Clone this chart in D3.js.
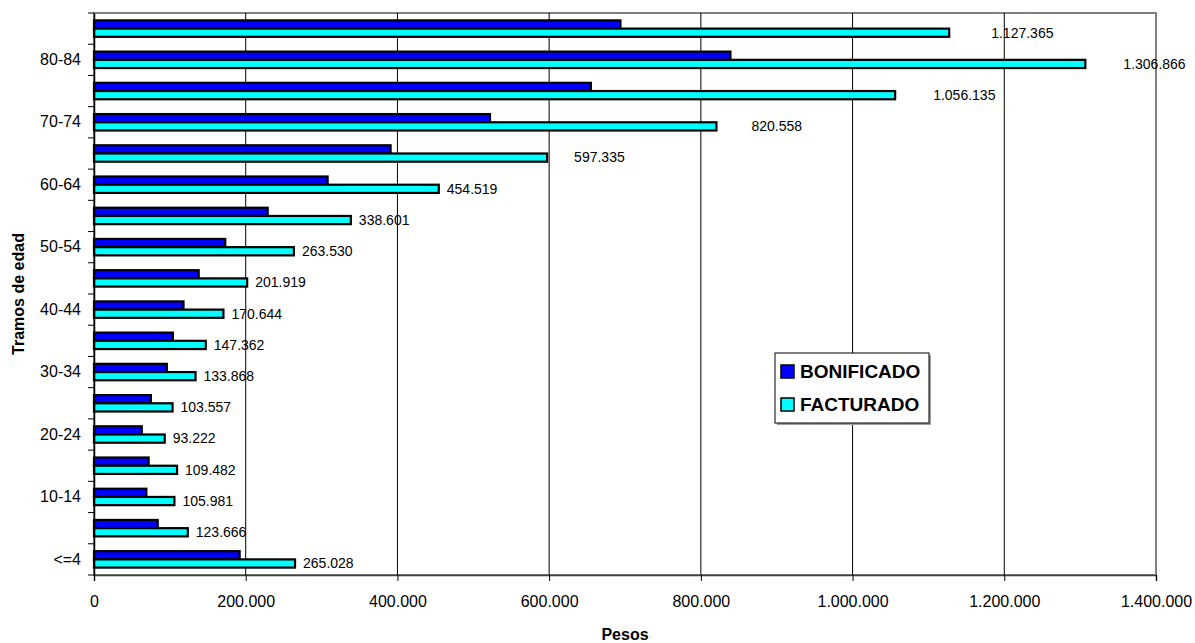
<!DOCTYPE html>
<html>
<head>
<meta charset="utf-8">
<script src="https://cdn.jsdelivr.net/npm/d3@7"></script>
<style>
  body { margin: 0; background: #fff; }
  svg { display: block; font-family: Arial, "Liberation Sans", sans-serif; }
</style>
</head>
<body>
<div class="display"></div>
<script>
// age groups, bottom to top
const tramos = ['<=4', '5-9', '10-14', '15-19', '20-24', '25-29', '30-34', '35-39', '40-44',
    '45-49', '50-54', '55-59', '60-64', '65-69', '70-74', '75-79', '80-84', '85+'];
const bonificado = [192000, 84000, 69000, 72000, 63000, 75000, 96000, 104000, 118000,
    138000, 173000, 229000, 308000, 391000, 522000, 655000, 839000, 694000];
const facturado = [265028, 123666, 105981, 109482, 93222, 103557, 133868, 147362, 170644,
    201919, 263530, 338601, 454519, 597335, 820558, 1056135, 1306866, 1127365];
const series = ['BONIFICADO', 'FACTURADO'];
const xTicks = [0, 200000, 400000, 600000, 800000, 1000000, 1200000, 1400000];

// excel pushes some labels further out, extra px per label
const labelNudge = [0, 0, 0, 0, 0, 0, 0, 0, 0, 0, 0, 0, 0, 19, 27, 30, 30, 34];

const width = 1195;
const height = 643;
const plot = { left: 94, right: 1156, top: 13, bottom: 575 };
const colors = { BONIFICADO: '#0000ff', FACTURADO: '#00ffff' };

const nf = d3.formatLocale({ decimal: ',', thousands: '.', grouping: [3], currency: ['', ''] }).format(',');

const svg = d3.select('.display')
    .append('svg')
    .attr('width', width)
    .attr('height', height);

const x = d3.scaleLinear()
    .domain([0, 1400000])
    .range([plot.left, plot.right]);

const y = d3.scaleBand()
    .domain(tramos.slice().reverse())
    .range([plot.top, plot.bottom]);

const ySub = d3.scaleBand()
    .domain(series)
    .range([0, y.bandwidth()])
    .paddingOuter(0.9);

// plot frame
svg.append('rect')
    .attr('x', plot.left)
    .attr('y', plot.top)
    .attr('width', plot.right - plot.left)
    .attr('height', plot.bottom - plot.top)
    .attr('fill', 'none')
    .attr('stroke', '#808080')
    .attr('stroke-width', 2);

// vertical gridlines
svg.append('g')
    .selectAll('line')
    .data(xTicks.slice(1, -1))
    .join('line')
    .attr('x1', d => x(d))
    .attr('x2', d => x(d))
    .attr('y1', plot.top)
    .attr('y2', plot.bottom)
    .attr('stroke', '#000')
    .attr('stroke-width', 1);

const rows = tramos.map((t, i) => ({ tramo: t, BONIFICADO: bonificado[i], FACTURADO: facturado[i], i }));

const groups = svg.append('g')
    .selectAll('g')
    .data(rows)
    .join('g')
    .attr('transform', d => `translate(0, ${y(d.tramo)})`);

groups.selectAll('rect')
    .data(d => series.map(s => ({ key: s, value: d[s] })))
    .join('rect')
    .attr('x', x(0))
    .attr('y', d => ySub(d.key))
    .attr('width', d => x(d.value) - x(0))
    .attr('height', ySub.bandwidth())
    .attr('fill', d => colors[d.key])
    .attr('stroke', '#000')
    .attr('stroke-width', 2.2);

groups.append('text')
    .attr('x', d => x(d.FACTURADO) + 8 + labelNudge[d.i])
    .attr('y', ySub('FACTURADO') + ySub.bandwidth() / 2)
    .attr('dy', '0.35em')
    .attr('font-size', 14)
    .attr('fill', '#000')
    .text(d => nf(d.FACTURADO));

// x axis
const xAxis = svg.append('g')
    .attr('transform', `translate(0, ${plot.bottom})`)
    .call(d3.axisBottom(x).tickValues(xTicks).tickFormat(nf).tickSizeOuter(0).tickSize(6).tickPadding(15));
xAxis.select('.domain').attr('stroke', '#404040').attr('stroke-width', 1.5);
xAxis.selectAll('text').attr('font-size', 16).attr('fill', '#000').style('font-family', 'Arial, "Liberation Sans", sans-serif');

// y axis, labels on every other group
const yAxis = svg.append('g')
    .attr('transform', `translate(${plot.left}, 0)`)
    .call(d3.axisLeft(y).tickSize(0).tickPadding(13)
        .tickFormat(d => tramos.indexOf(d) % 2 === 0 ? d : ''));
yAxis.select('.domain').attr('stroke', '#000').attr('stroke-width', 1.5);
yAxis.selectAll('text').attr('font-size', 16).attr('fill', '#000').style('font-family', 'Arial, "Liberation Sans", sans-serif');

// category boundary ticks
svg.append('g')
    .selectAll('line')
    .data(y.domain().map(d => y(d)).concat([plot.bottom]))
    .join('line')
    .attr('x1', plot.left - 6)
    .attr('x2', plot.left)
    .attr('y1', d => d)
    .attr('y2', d => d)
    .attr('stroke', '#000');

// axis titles
svg.append('text')
    .attr('x', (plot.left + plot.right) / 2)
    .attr('y', 640)
    .attr('text-anchor', 'middle')
    .attr('font-size', 16)
    .attr('font-weight', 'bold')
    .text('Pesos');

svg.append('text')
    .attr('transform', `translate(24, ${(plot.top + plot.bottom) / 2}) rotate(-90)`)
    .attr('text-anchor', 'middle')
    .attr('font-size', 16)
    .attr('font-weight', 'bold')
    .text('Tramos de edad');

// legend
const legend = svg.append('g')
    .attr('id', 'legend')
    .attr('transform', 'translate(775, 353)');

legend.append('rect')
    .attr('x', 2)
    .attr('y', 2)
    .attr('width', 154)
    .attr('height', 70)
    .attr('fill', '#a0a0a0');

legend.append('rect')
    .attr('width', 154)
    .attr('height', 70)
    .attr('fill', '#fff')
    .attr('stroke', '#000');

legend.selectAll('.swatch')
    .data(series)
    .join('rect')
    .attr('class', 'swatch')
    .attr('x', 6)
    .attr('y', (d, i) => 12 + i * 33)
    .attr('width', 13)
    .attr('height', 13)
    .attr('fill', d => colors[d])
    .attr('stroke', '#000')
    .attr('stroke-width', 1.5);

legend.selectAll('.label')
    .data(series)
    .join('text')
    .attr('class', 'label')
    .attr('x', 25)
    .attr('y', (d, i) => 25 + i * 33)
    .attr('font-size', 19)
    .attr('font-weight', 'bold')
    .text(d => d);
</script>
</body>
</html>
